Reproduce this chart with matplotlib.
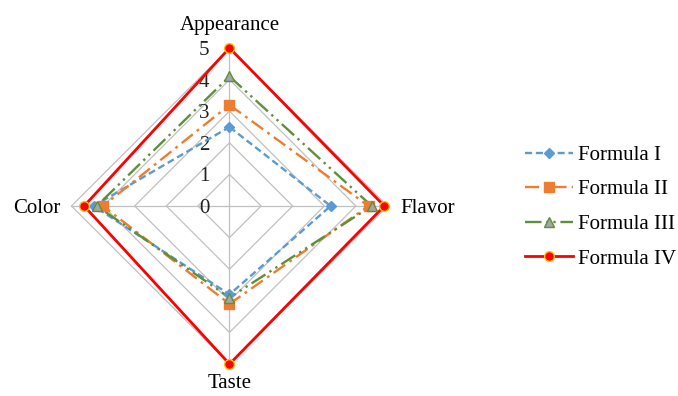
import numpy as np
import matplotlib
matplotlib.use("Agg")
import matplotlib.pyplot as plt
from matplotlib.lines import Line2D

plt.rcParams['font.family'] = ['Liberation Serif', 'DejaVu Serif']

# Sensory attributes, clockwise from the top
categories = ["Appearance", "Flavor", "Taste", "Color"]
series_names = ["Formula I", "Formula II", "Formula III", "Formula IV"]
formula_1 = [2.5, 3.2, 2.8, 4.3]
formula_2 = [3.2, 4.4, 3.1, 4.0]
formula_3 = [4.1, 4.5, 2.9, 4.2]
formula_4 = [5.0, 4.9, 5.0, 4.6]
tick_values = [0, 1, 2, 3, 4, 5]

angles = np.pi / 2 - np.arange(len(categories)) * 2 * np.pi / len(categories)


def to_xy(values):
    v = np.asarray(values, dtype=float)
    return v * np.cos(angles), v * np.sin(angles)


def closed(a):
    return np.append(a, a[0])


W, H = 678, 396
fig = plt.figure(figsize=(W / 100, H / 100), dpi=100)
ax = fig.add_axes([0, 0, 1, 1])
scale = 31.6  # pixels per unit
cx, cy = 229.5, 206.0  # centre in pixels from top-left
ax.set_xlim(-cx / scale, (W - cx) / scale)
ax.set_ylim(-(H - cy) / scale, cy / scale)
ax.axis("off")

FS = 15
dy = -2.5 / scale  # nudge text so glyphs sit centred on their anchor
grid_col = "#C0C0C0"
rmax = max(tick_values)
for r in tick_values[1:]:
    gx, gy = to_xy([r] * len(categories))
    ax.plot(closed(gx), closed(gy), color=grid_col, lw=0.9, zorder=1)
for a in angles:
    ax.plot([0, rmax * np.cos(a)], [0, rmax * np.sin(a)], color=grid_col, lw=0.9, zorder=1)

# Scale labels along the top spoke
for t in tick_values:
    ax.text(-20 / scale, t + dy, str(t), ha="right", va="center", fontsize=FS, color="#222222")

# Category labels
ax.text(0, rmax + 25 / scale + dy, categories[0], ha="center", va="center", fontsize=FS)
ax.text(rmax + 13 / scale, dy, categories[1], ha="left", va="center", fontsize=FS)
ax.text(0, -rmax - 20 / scale, categories[2], ha="center", va="center", fontsize=FS)
ax.text(-rmax - 11 / scale, dy, categories[3], ha="right", va="center", fontsize=FS)

styles = [
    dict(color="#5B9BD5", lw=1.7, ls=(0, (3, 1.6)), marker="D", ms=5.5,
         mfc="#5B9BD5", mec="#5B9BD5"),
    dict(color="#ED7D31", lw=1.7, ls=(0, (6, 2.2, 1.2, 2.2)), marker="s", ms=6.5,
         mfc="#ED7D31", mec="#ED7D31"),
    dict(color="#5E8F3A", lw=1.7, ls=(0, (7, 2, 1, 2, 1, 2)), marker="^", ms=7,
         mfc="#A5A5A5", mec="#5E8F3A"),
    dict(color="#FF0000", lw=2.0, ls="-", marker="o", ms=7,
         mfc="#FF0000", mec="#FFC000", mew=1.0),
]

handles = []
for name, vals, st in zip(series_names, [formula_1, formula_2, formula_3, formula_4], styles):
    x, y = to_xy(vals)
    ax.plot(closed(x), closed(y), color=st["color"], lw=st["lw"], ls=st["ls"],
            zorder=3, solid_capstyle="butt")
    ax.plot(x, y, ls="none", marker=st["marker"], ms=st["ms"], mfc=st["mfc"],
            mec=st["mec"], mew=st.get("mew", 1.0), zorder=4)
    handles.append(Line2D([], [], color=st["color"], lw=st["lw"], ls=st["ls"],
                          marker=st["marker"], ms=st["ms"], mfc=st["mfc"],
                          mec=st["mec"], mew=st.get("mew", 1.0), label=name))

fig.legend(handles=handles, loc="center left", bbox_to_anchor=(525 / W, 1 - 207 / H),
           frameon=False, fontsize=FS, handlelength=2.3, handletextpad=0.25,
           labelspacing=0.72, borderpad=0, borderaxespad=0)

fig.savefig("out.png", dpi=100)
